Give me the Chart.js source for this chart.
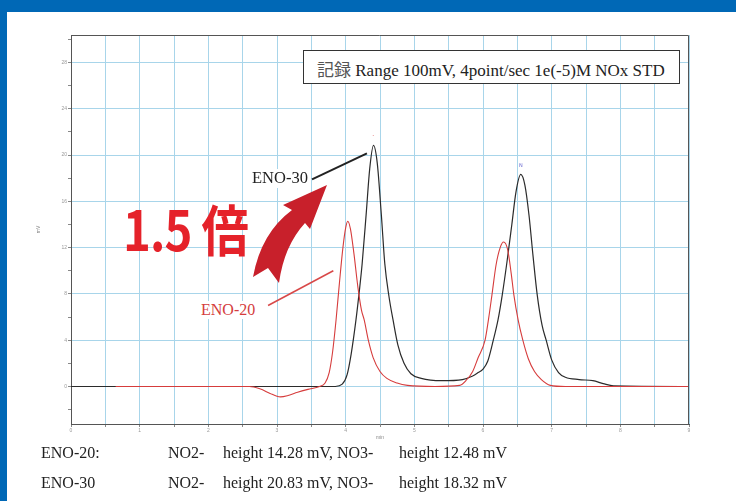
<!DOCTYPE html>
<html>
<head>
<meta charset="utf-8">
<script src="https://cdn.jsdelivr.net/npm/chart.js@4/dist/chart.umd.min.js"></script>
<style>
html, body { margin: 0; padding: 0; background: #fff; }
body { width: 736px; height: 501px; position: relative; overflow: hidden; font-family: "Liberation Serif", serif; }
#topbar { position: absolute; left: 0; top: 0; width: 736px; height: 12px; background: #0068b6; }
#leftbar { position: absolute; left: 0; top: 0; width: 7px; height: 501px; background: #0068b6; }
#c { position: absolute; left: 0; top: 0; }
.t { position: absolute; white-space: pre; line-height: 1; }
#box { position: absolute; left: 303px; top: 50px; width: 377px; height: 34px; box-sizing: border-box;
       border: 1.5px solid #333; background: #fff; }
</style>
</head>
<body>
<div id="topbar"></div>
<div id="leftbar"></div>
<canvas id="c" width="736" height="501"></canvas>
<div id="box"></div>
<div class="t" id="boxText" style="left:317px;top:62px;font-size:17px;color:#222;font-family:'Liberation Serif','Noto Sans CJK JP',serif;"><span style="color:#555">記録</span> Range 100mV, 4point/sec 1e(-5)M NOx STD</div>
<div class="t" style="left:250px;top:169px;font-size:16.5px;color:#222;background:#fff;padding:1px 2px;">ENO-30</div>
<div class="t" style="left:200px;top:301px;font-size:16px;color:#d43c3c;background:#fff;padding:1px 1px;">ENO-20</div>
<div class="t" style="left:123px;top:200px;font-size:55px;font-weight:bold;color:#e5222a;font-family:'Noto Sans CJK JP',sans-serif;letter-spacing:-1px;transform:scaleX(0.86);transform-origin:0 0;">1.5 倍</div>
<div id="notes"></div>
<script>
// time (min) and signal (mV)
const eno30T  = [0, 3.85, 3.95, 4.02, 4.08, 4.15, 4.2, 4.24, 4.3, 4.35, 4.405, 4.46, 4.52, 4.57, 4.63, 4.69, 4.76, 4.85, 4.95, 5.1, 5.4, 5.7,
                 5.85, 5.93, 6.0, 6.07, 6.15, 6.22, 6.28, 6.35, 6.42, 6.48, 6.55, 6.61, 6.67, 6.73, 6.79, 6.86, 6.92, 7.0, 7.1, 7.2, 7.4, 7.6, 7.75, 7.9, 9.0];
const eno30Mv = [0, 0, 0.2, 1.0, 2.8, 5.75, 8.3, 10.6, 15.0, 18.8, 20.83, 19.3, 14.8, 10.6, 7.8, 5.75, 3.6, 2.0, 1.1, 0.7, 0.5, 0.6,
                 0.9, 1.2, 1.5, 2.2, 4.0, 5.8, 7.9, 10.8, 14.0, 16.8, 18.32, 17.4, 14.8, 11.2, 7.9, 5.3, 4.0, 2.3, 1.2, 0.8, 0.6, 0.5, 0.25, 0.05, 0];

const eno20T  = [0.65, 2.6, 2.75, 2.9, 3.0, 3.05, 3.15, 3.3, 3.45, 3.62, 3.7, 3.76, 3.81, 3.86, 3.91, 3.96, 4.0, 4.03, 4.07, 4.12, 4.18, 4.23, 4.27,
                 4.33, 4.4, 4.5, 4.6, 4.75, 4.9, 5.3, 5.66, 5.75, 5.85, 5.93, 6.03, 6.08, 6.13, 6.19, 6.25, 6.3, 6.36, 6.41, 6.45, 6.51, 6.58,
                 6.66, 6.75, 6.85, 6.98, 7.2, 9.0];
const eno20Mv = [0, 0, -0.2, -0.6, -0.85, -0.9, -0.8, -0.5, -0.25, 0, 0.3, 1.2, 3.0, 5.75, 9.0, 12.0, 13.7, 14.28, 13.6, 11.5, 8.5, 6.6, 5.75,
                 4.0, 2.5, 1.3, 0.7, 0.3, 0.1, 0, 0.1, 0.5, 1.3, 2.5, 4.0, 5.8, 7.9, 10.5, 12.0, 12.48, 11.8, 9.8, 7.9, 5.8, 4.0,
                 2.4, 1.3, 0.6, 0.1, 0, 0];

const yTicks = [-2, 0, 2, 4, 6, 8, 10, 12, 14, 16, 18, 20, 22, 24, 26, 28, 30];
const xTicks = [0, 0.5, 1, 1.5, 2, 2.5, 3, 3.5, 4, 4.5, 5, 5.5, 6, 6.5, 7, 7.5, 8, 8.5, 9];

const sampleNames = ['ENO-20:', 'ENO-30'];
const no2Heights = [14.28, 20.83];
const no3Heights = [12.48, 18.32];

const gridBlue = '#a8d5ea';

const notes = document.getElementById('notes');
sampleNames.forEach((name, i) => {
  const top = 445 + i * 30;
  notes.innerHTML +=
    '<div class="t" style="left:41px;top:' + top + 'px;font-size:16px;color:#222">' + name + '</div>' +
    '<div class="t" style="left:168px;top:' + top + 'px;font-size:16px;color:#222">NO2-</div>' +
    '<div class="t" style="left:223px;top:' + top + 'px;font-size:16px;color:#222">height ' + no2Heights[i].toFixed(2) + ' mV, NO3-</div>' +
    '<div class="t" style="left:399px;top:' + top + 'px;font-size:16px;color:#222">height ' + no3Heights[i].toFixed(2) + ' mV</div>';
});

const toXY = (ts, vs) => ts.map((t, i) => ({ x: t, y: vs[i] }));

const annotations = {
  id: 'annotations',
  afterDraw(chart) {
    const ctx = chart.ctx;
    const a = chart.chartArea;
    ctx.save();
    // top / right frame
    ctx.strokeStyle = '#555';
    ctx.lineWidth = 1;
    ctx.beginPath();
    ctx.moveTo(a.left, a.top + 0.5);
    ctx.lineTo(a.right - 0.5, a.top + 0.5);
    ctx.lineTo(a.right - 0.5, a.bottom);
    ctx.stroke();

    const xs = chart.scales.x, ys = chart.scales.y;
    // leader lines (data units)
    ctx.lineWidth = 2;
    ctx.strokeStyle = '#222';
    ctx.beginPath();
    ctx.moveTo(xs.getPixelForValue(3.51), ys.getPixelForValue(17.9));
    ctx.lineTo(xs.getPixelForValue(4.31), ys.getPixelForValue(20.15));
    ctx.stroke();
    ctx.lineWidth = 1.5;
    ctx.strokeStyle = '#d84848';
    ctx.beginPath();
    ctx.moveTo(xs.getPixelForValue(2.87), ys.getPixelForValue(7.0));
    ctx.lineTo(xs.getPixelForValue(3.82), ys.getPixelForValue(10.0));
    ctx.stroke();

    // small peak marks
    ctx.font = '5px "DejaVu Sans"';
    ctx.textAlign = 'center';
    ctx.fillStyle = '#d84848';
    ctx.fillText('-', xs.getPixelForValue(4.405), ys.getPixelForValue(21.6));
    ctx.fillStyle = '#6a6ad0';
    ctx.fillText('N', xs.getPixelForValue(6.55), ys.getPixelForValue(19.0));

    // curved red arrow
    ctx.fillStyle = '#c8202b';
    ctx.beginPath();
    ctx.moveTo(253, 277);
    ctx.quadraticCurveTo(261, 233, 292, 210);
    ctx.lineTo(283, 205);
    ctx.lineTo(327, 185);
    ctx.lineTo(310, 229);
    ctx.lineTo(305, 223);
    ctx.quadraticCurveTo(284, 246, 279, 283);
    ctx.lineTo(268, 268);
    ctx.closePath();
    ctx.fill();
    ctx.restore();
  }
};

new Chart(document.getElementById('c'), {
  type: 'line',
  data: {
    datasets: [
      { label: 'ENO-20', data: toXY(eno20T, eno20Mv), borderColor: '#d63c3c', borderWidth: 1.1,
        pointRadius: 0, cubicInterpolationMode: 'monotone', order: 0 },
      { label: 'ENO-30', data: toXY(eno30T, eno30Mv), borderColor: '#2b2b2b', borderWidth: 1.2,
        pointRadius: 0, cubicInterpolationMode: 'monotone', order: 1 }
    ]
  },
  options: {
    responsive: false,
    animation: false,
    layout: { padding: { left: 36, top: 35, right: 47, bottom: 60 } },
    plugins: { legend: { display: false }, tooltip: { enabled: false } },
    scales: {
      x: {
        type: 'linear', min: 0, max: 9,
        afterBuildTicks: (axis) => { axis.ticks = xTicks.map(v => ({ value: v })); },
        afterFit: (axis) => { axis.height = 17; },
        grid: { color: gridBlue, tickColor: '#888', tickLength: 3 },
        border: { color: '#555', width: 1 },
        ticks: { font: { size: 5 }, color: '#999', padding: 1, maxRotation: 0, autoSkip: false,
                 callback: (v) => Number.isInteger(v) ? String(v) : '' },
        title: { display: true, text: 'min', font: { size: 5 }, color: '#888', padding: 0 }
      },
      y: {
        type: 'linear', min: -3.24, max: 30.37,
        afterBuildTicks: (axis) => { axis.ticks = yTicks.map(v => ({ value: v })); },
        afterFit: (axis) => { axis.width = 35; },
        grid: {
          color: (c) => (c.tick && c.tick.value % 4 === 0) ? gridBlue : 'rgba(0,0,0,0)',
          tickColor: '#888', tickLength: 3
        },
        border: { color: '#555', width: 1 },
        ticks: { font: { size: 5 }, color: '#999', padding: 1, autoSkip: false,
                 callback: (v) => v % 4 === 0 ? String(v) : '' },
        title: { display: true, text: 'mV', font: { size: 5 }, color: '#888', padding: 0 }
      }
    }
  },
  plugins: [annotations]
});
</script>
</body>
</html>
